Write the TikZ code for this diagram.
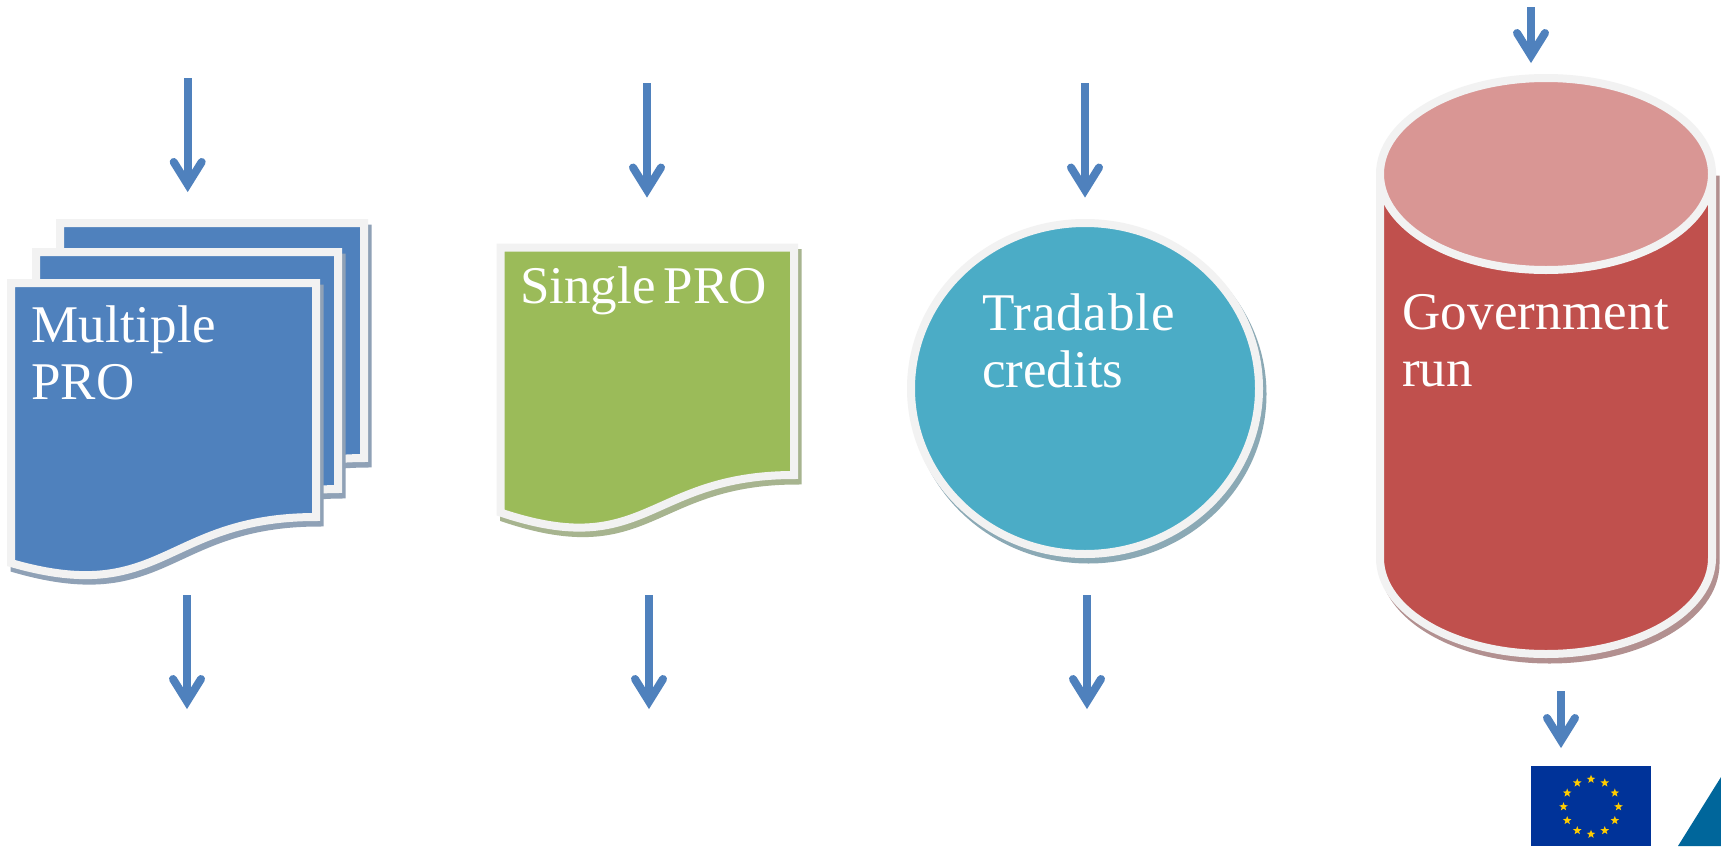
\documentclass[tikz,border=0pt]{standalone}
\usepackage{fontspec}
\setmainfont{Liberation Serif}
\usetikzlibrary{shapes.geometric}
\definecolor{bluef}{HTML}{4F81BD}
\definecolor{blues}{HTML}{8FA1B6}
\definecolor{greenf}{HTML}{9BBB59}
\definecolor{greens}{HTML}{A7B48F}
\definecolor{tealf}{HTML}{4BACC6}
\definecolor{teals}{HTML}{8BA9B5}
\definecolor{redf}{HTML}{C0504D}
\definecolor{redl}{HTML}{D99694}
\definecolor{reds}{HTML}{B29090}
\definecolor{rim}{HTML}{F2F2F2}
\definecolor{euflag}{HTML}{003399}
\definecolor{eustar}{HTML}{FFCC00}
\definecolor{logot}{HTML}{00669B}
\tikzset{
  shape rim/.style={draw=rim,line width=8pt,line join=miter},
  shade copy/.style={line width=8pt,shift={(3.5,5.5)}},
  flowshaft/.style={draw=bluef,line width=8pt},
  flowbarb/.style={draw=bluef,line width=8pt,line cap=round,line join=miter,miter limit=10},
  label text/.style={text=white,font=\fontsize{53}{57}\selectfont,inner sep=0pt,anchor=north west,align=left},
  eu star/.style={star,star points=5,star point ratio=2.4,fill=eustar,draw=none,minimum size=9pt,inner sep=0pt}
}
\begin{document}
\begin{tikzpicture}[x=1pt,y=-1pt]
\useasboundingbox (0,0) rectangle (1721,846);
\fill[white] (0,0) rectangle (1721,846);
% multiple document
\def\pagethree{(60,223) -- (364,223) -- (364,458) .. controls (350,458) and (340,459) .. (320,460) -- (60,460) -- cycle}
\def\pagetwo{(36,252) -- (338,252) -- (338,489) .. controls (325,489) and (315,490) .. (300,491) -- (36,491) -- cycle}
\def\pageone{(11,283) -- (316,283) -- (316,517) .. controls (163.5,517) and (163.5,607) .. (11,563) -- cycle}
\fill[blues,draw=blues,shade copy] \pagethree;
\filldraw[fill=bluef,shape rim] \pagethree;
\fill[blues,draw=blues,shade copy] \pagetwo;
\filldraw[fill=bluef,shape rim] \pagetwo;
\fill[blues,draw=blues,shade copy] \pageone;
\filldraw[fill=bluef,shape rim] \pageone;
\node[label text] (multi) at (31,306) {\addfontfeature{LetterSpace=0.5}Multiple\\PRO};
% single document
\def\singledoc{(500.5,247.5) -- (794,247.5) -- (794,475) .. controls (647,475) and (647,561.7) .. (500.5,512.5) -- cycle}
\fill[greens,draw=greens,shade copy] \singledoc;
\filldraw[fill=greenf,shape rim] \singledoc;
\node[label text] (single) at (520,267) {Single\hspace{-5pt} PRO};
% circle
\fill[teals,draw=teals,shade copy] (1085,388.5) ellipse [x radius=174,y radius=165.5];
\filldraw[fill=tealf,shape rim] (1085,388.5) ellipse [x radius=174,y radius=165.5];
\node[label text] (credits) at (982,294) {\addfontfeature{LetterSpace=1.6}Tradable\\credits};
% cylinder
\def\cylbody{(1380,174) -- (1712,174) -- (1712,558) arc [start angle=0,end angle=180,x radius=166,y radius=96] -- cycle}
\fill[reds,draw=reds,shade copy] \cylbody;
\filldraw[fill=redf,shape rim] \cylbody;
\filldraw[fill=redl,shape rim] (1546,174) ellipse [x radius=166,y radius=96];
\node[label text] (govt) at (1402,294) {\addfontfeature{LetterSpace=0.4}Government\\run};
% arrows
\coordinate (a1s) at (187.7,78);  \coordinate (a1e) at (187.7,192);
\coordinate (a2s) at (647,83);    \coordinate (a2e) at (647,197.5);
\coordinate (a3s) at (1085,83);   \coordinate (a3e) at (1085,197.5);
\coordinate (a4s) at (1531,7);    \coordinate (a4e) at (1531,63);
\coordinate (b1s) at (187,595);   \coordinate (b1e) at (187,709);
\coordinate (b2s) at (649,595);   \coordinate (b2e) at (649,709);
\coordinate (b3s) at (1087,595);  \coordinate (b3e) at (1087,709);
\coordinate (b4s) at (1561,691);  \coordinate (b4e) at (1561,748);
\foreach \s/\e in {a1s/a1e,a2s/a2e,a3s/a3e,a4s/a4e,b1s/b1e,b2s/b2e,b3s/b3e,b4s/b4e}{
  \draw[flowshaft] (\s) -- ([yshift=8pt]\e);
  \draw[flowbarb] ([shift={(-14,-30)}]\e) -- ([shift={(0,-7.5)}]\e) -- ([shift={(14,-30)}]\e);
}
% flag
\fill[euflag] (1531,766) rectangle (1651,846);
\foreach \k in {0,...,11}
  \node[eu star] (st\k) at ({1591+27.5*cos(30*\k)},{806.7+27.5*sin(30*\k)}) {};
% logo corner
\fill[logot] (1678,846) -- (1721,777) -- (1721,846) -- cycle;
\end{tikzpicture}
\end{document}
